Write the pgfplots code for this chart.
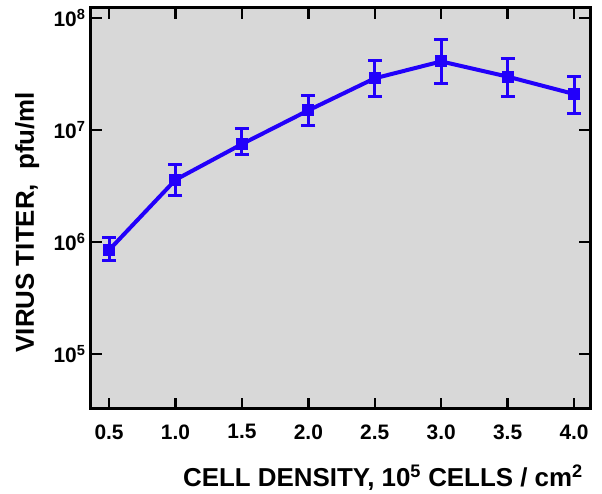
\documentclass[border=0pt]{standalone}
\usepackage{fontspec}
\setmainfont{Liberation Sans}
\usepackage{pgfplots}
\pgfplotsset{compat=1.18}
\definecolor{bggray}{RGB}{216,216,216}
\definecolor{titerblue}{RGB}{34,0,250}

\pgfplotstableread{
x    y       ep      em
0.5  8.5e5   2.5e5   1.6e5
1.0  3.6e6   1.3e6   1.0e6
1.5  7.5e6   2.9e6   1.5e6
2.0  1.5e7   0.55e7  0.41e7
2.5  2.9e7   1.3e7   0.9e7
3.0  4.1e7   2.4e7   1.5e7
3.5  3.0e7   1.4e7   1.0e7
4.0  2.1e7   0.9e7   0.7e7
}\titer

\begin{document}
\begin{tikzpicture}
\begin{axis}[
    scale only axis,
    width=499bp, height=401bp,
    ymode=log,
    xmin=0.364, xmax=4.12,
    ymin=3.24e4, ymax=1.23e8,
    axis background/.style={fill=bggray},
    axis line style={line width=3bp},
    tick style={line width=2.5bp, black},
    tick align=inside,
    major tick length=11bp,
    yminorticks=false,
    xtick={0.5,1.0,1.5,2.0,2.5,3.0,3.5,4.0},
    xticklabels={0.5,1.0,1.5,2.0,2.5,3.0,3.5,4.0},
    ytick={1e5,1e6,1e7,1e8},
    yticklabels={10\textsuperscript{5},10\textsuperscript{6},10\textsuperscript{7},10\textsuperscript{8}},
    ticklabel style={font=\fontsize{21}{24}\selectfont\bfseries},
    x tick label style={yshift=-12bp},
    y tick label style={xshift=-2bp},
    xlabel={CELL DENSITY, 10\textsuperscript{5} CELLS / cm\textsuperscript{2}},
    ylabel={VIRUS TITER,\ \ pfu/ml},
    label style={font=\fontsize{26}{30}\selectfont\bfseries},
    xlabel style={at={(axis description cs:0.585,-0.172)}, anchor=center},
    ylabel style={at={(axis description cs:-0.128,0.466)}, anchor=center, rotate=0},
]
\addplot[titerblue, line width=4bp, mark=square*, mark size=4bp,
    error bars/.cd, y dir=both, y explicit,
    error mark=|,
    error bar style={line width=3bp, titerblue},
    error mark options={titerblue, line width=3bp, mark size=7bp}]
    table[x=x, y=y, y error plus=ep, y error minus=em] {\titer};
\end{axis}
\path (current axis.south west) ++(-91bp,-85bp) coordinate (bl);
\path (current axis.north east) ++(12bp,8bp) coordinate (tr);
\pgfresetboundingbox
\path (bl) rectangle (tr);
\end{tikzpicture}
\end{document}
